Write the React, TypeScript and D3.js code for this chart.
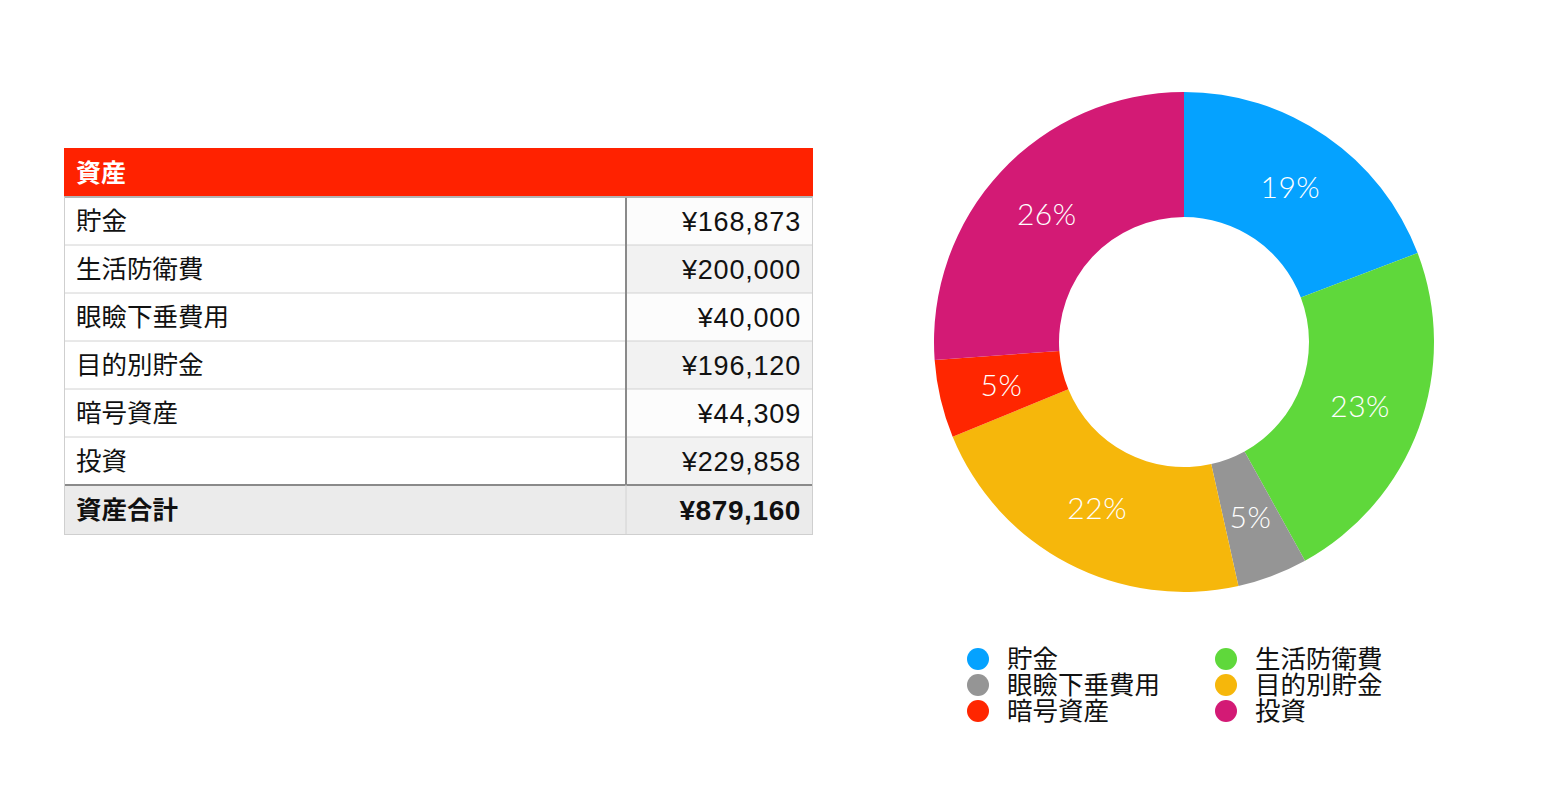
import React from "react";
import * as d3 from "d3";

const categories = ["貯金", "生活防衛費", "眼瞼下垂費用", "目的別貯金", "暗号資産", "投資"];
const values = [168873, 200000, 40000, 196120, 44309, 229858];
const colors = ["#05A2FF", "#5FD83B", "#959595", "#F6B70B", "#FF2600", "#D31A75"];
const tableTitle = "資産";
const totalLabel = "資産合計";

const FONT = "'Noto Sans CJK JP', 'Noto Sans', sans-serif";
const NUMFONT = "'Liberation Sans', Arial, sans-serif";
const PCTFONT = "Lato, 'Open Sans', sans-serif";

export default function App() {
  const total = d3.sum(values);
  const fmt = (v: number) => "¥" + d3.format(",")(v);

  // table layout
  const tx = 64, tw = 749, divX = 626;
  const headY = 148, headH = 49, rowH = 48;
  const rowY = (i: number) => headY + headH + i * rowH;
  const totalY = rowY(values.length);

  // pie
  const cx = 1184, cy = 342, R = 250, r = 125;
  const pie = d3.pie<number>().sort(null).value((d) => d);
  const arcs = pie(values);
  const arc = d3.arc<d3.PieArcDatum<number>>().innerRadius(r).outerRadius(R);
  const labelArc = d3.arc<d3.PieArcDatum<number>>().innerRadius((r + R) / 2).outerRadius((r + R) / 2);
  const pct = d3.format(".0%");

  const legendPos = categories.map((_, i) => ({
    x: i % 2 === 0 ? 978 : 1226,
    y: 659 + Math.floor(i / 2) * 26,
  }));

  return (
    <svg width={1545} height={786} style={{ position: "absolute", left: 0, top: 0, background: "#fff" }} fontFamily={FONT}>
      {/* table */}
      <rect x={tx} y={headY} width={tw} height={headH} fill="#FF2200" />
      <text x={76} y={headY + headH / 2} dy="0.36em" fill="#fff" fontSize={25} fontWeight={700}>{tableTitle}</text>
      {values.map((v, i) => (
        <g key={i}>
          <rect x={tx} y={rowY(i)} width={divX - tx} height={rowH} fill="#fff" />
          <rect x={divX} y={rowY(i)} width={tx + tw - divX} height={rowH} fill={i % 2 === 1 ? "#F2F2F2" : "#FCFCFC"} />
          <text x={76} y={rowY(i) + rowH / 2} dy="0.36em" fontSize={25.5} fill="#111">{categories[i]}</text>
          <text x={801} y={rowY(i) + rowH / 2} dy="0.36em" fontSize={27} fontFamily={NUMFONT} letterSpacing={0.8} fill="#111" textAnchor="end">{fmt(v)}</text>
          {i > 0 && <line x1={tx} x2={tx + tw} y1={rowY(i)} y2={rowY(i)} stroke="#D2D2D2" strokeWidth={1} />}
        </g>
      ))}
      <rect x={tx} y={totalY} width={tw} height={50} fill="#EBEBEB" />
      <text x={76} y={totalY + 25} dy="0.36em" fontSize={25.5} fontWeight={700} fill="#111">{totalLabel}</text>
      <text x={801} y={totalY + 25} dy="0.36em" fontSize={28} fontFamily={NUMFONT} fontWeight={700} letterSpacing={0.6} fill="#111" textAnchor="end">{fmt(total)}</text>
      <line x1={tx} x2={tx + tw} y1={headY + headH} y2={headY + headH} stroke="#999" strokeWidth={2} />
      <line x1={tx} x2={tx + tw} y1={totalY} y2={totalY} stroke="#8A8A8A" strokeWidth={2} />
      <line x1={divX} x2={divX} y1={headY + headH} y2={totalY} stroke="#8A8A8A" strokeWidth={2} />
      <line x1={divX} x2={divX} y1={totalY} y2={totalY + 50} stroke="#D2D2D2" strokeWidth={1} />
      <rect x={tx + 0.5} y={headY + headH} width={tw - 1} height={totalY + 50 - headY - headH - 0.5} fill="none" stroke="#CFCFCF" strokeWidth={1} />

      {/* donut */}
      <g transform={`translate(${cx},${cy})`}>
        {arcs.map((a, i) => (
          <path key={i} d={arc(a) || ""} fill={colors[i]} />
        ))}
        {arcs.map((a, i) => {
          const [lx, ly] = labelArc.centroid(a);
          return (
            <text key={i} x={lx} y={ly} dy="0.36em" textAnchor="middle" fill="#fff" fontFamily={PCTFONT} fontSize={30} fontWeight={300} letterSpacing={0.5}>
              {pct(a.value / total)}
            </text>
          );
        })}
      </g>

      {/* legend */}
      {categories.map((c, i) => (
        <g key={i}>
          <circle cx={legendPos[i].x} cy={legendPos[i].y} r={11} fill={colors[i]} />
          <text x={legendPos[i].x + 29} y={legendPos[i].y} dy="0.36em" fontSize={25.5} fill="#111">{c}</text>
        </g>
      ))}
    </svg>
  );
}
